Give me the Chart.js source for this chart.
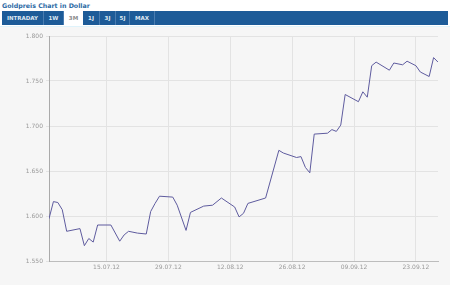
<!DOCTYPE html>
<html>
<head>
<meta charset="utf-8">
<script src="https://cdn.jsdelivr.net/npm/chart.js@4.4.1/dist/chart.umd.min.js"></script>
<style>
  body { margin: 0; width: 450px; height: 300px; background: #fff; font-family: "DejaVu Sans", Verdana, sans-serif; position: relative; overflow: hidden; }
  #title { position: absolute; left: 2px; top: 2px; font-size: 6.3px; font-weight: bold; color: #2c6aa4; }
  #tabs { position: absolute; left: 2px; top: 11px; width: 446px; height: 14px; background: #1d5b98; display: flex; }
  #tabs span { height: 14px; line-height: 14px; font-size: 5.5px; font-weight: bold; color: #dfe8f2; text-align: center; border-right: 1px solid #4a7cb0; box-sizing: border-box; }
  #tabs span.active { background: #fff; color: #8a8a8a; border-right: none; }
  #box { position: absolute; left: 0; top: 26px; width: 450px; height: 258px; background: #f6f6f6; border-top: 1px solid #dff3fb; }
  #box canvas { position: absolute; left: 0; top: 0; }
</style>
</head>
<body>
<div id="title">Goldpreis Chart in Dollar</div>
<div id="tabs"></div>
<div id="box"><canvas id="chart" width="450" height="257"></canvas></div>
<script>
const tabNames = ["INTRADAY", "1W", "3M", "1J", "3J", "5J", "MAX"];
const tabWidths = [42, 20, 19, 17, 16, 14, 25];
const activeTab = "3M";

// days counted from 02.07.12
const days = [0, 1, 2, 3, 4, 7, 8, 9, 10, 11, 14, 16, 17, 18, 19, 20, 22, 23, 24, 25, 28, 29, 31, 32, 35, 37, 39, 42, 43, 44, 45, 49, 52, 53, 56, 57, 58, 59, 60, 63, 64, 65, 66, 67, 70, 71, 72, 73, 74, 77, 78, 80, 81, 83, 84, 86, 87, 88];
const prices = [1597, 1616, 1615, 1607, 1583, 1586, 1567, 1575, 1571, 1590, 1590, 1572, 1579, 1583, 1582, 1581, 1580, 1605, 1614, 1622, 1621, 1612, 1584, 1604, 1611, 1612, 1620, 1610, 1599, 1603, 1614, 1620, 1673, 1670, 1665, 1666, 1654, 1648, 1691, 1692, 1696, 1694, 1701, 1735, 1727, 1738, 1732, 1767, 1771, 1762, 1770, 1768, 1772, 1767, 1760, 1755, 1776, 1771];

const tickDays = [13, 27, 41, 55, 69, 83];
const tickLabels = ["15.07.12", "29.07.12", "12.08.12", "26.08.12", "09.09.12", "23.09.12"];

const tabs = document.getElementById("tabs");
tabNames.forEach((name, i) => {
  const s = document.createElement("span");
  s.innerText = name;
  s.style.width = tabWidths[i] + "px";
  if (name === activeTab) s.className = "active";
  tabs.appendChild(s);
});

function formatPrice(v) {
  const s = String(Math.round(v));
  return s.slice(0, s.length - 3) + "." + s.slice(-3);
}

const ctx = document.getElementById("chart").getContext("2d");
new Chart(ctx, {
  type: "line",
  data: {
    datasets: [{
      data: days.map((d, i) => ({ x: d, y: prices[i] })),
      borderColor: "#5e5b9e",
      borderWidth: 1,
      pointRadius: 0,
      tension: 0,
      fill: false
    }]
  },
  options: {
    responsive: false,
    animation: false,
    layout: { padding: { top: 9, right: 12, left: 0, bottom: 0 } },
    plugins: { legend: { display: false }, tooltip: { enabled: false } },
    scales: {
      x: {
        type: "linear",
        min: 0,
        max: 88,
        afterBuildTicks: s => { s.ticks = tickDays.map(v => ({ value: v })); },
        afterFit: s => { s.height = 23; },
        ticks: {
          autoSkip: false,
          maxRotation: 0,
          padding: 3,
          color: "#999",
          font: { family: "DejaVu Sans", size: 6 },
          callback: v => tickLabels[tickDays.indexOf(v)]
        },
        grid: { color: "#e3e3e3", drawTicks: false },
        border: { color: "#bdbdbd" }
      },
      y: {
        min: 1550,
        max: 1800,
        afterFit: s => { s.width = 49; },
        ticks: {
          stepSize: 50,
          padding: 3,
          color: "#999",
          font: { family: "DejaVu Sans", size: 6 },
          callback: v => formatPrice(v)
        },
        grid: { color: "#e3e3e3", tickLength: 3 },
        border: { color: "#aaaaaa" }
      }
    }
  }
});
</script>
</body>
</html>
